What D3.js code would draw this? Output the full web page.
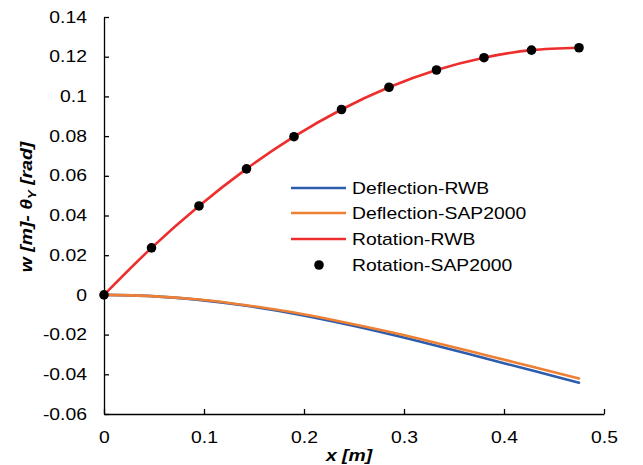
<!DOCTYPE html>
<html>
<head>
<meta charset="utf-8">
<script src="https://cdn.jsdelivr.net/npm/d3@7"></script>
<style>
  html, body { margin: 0; padding: 0; background: #fff; }
  svg { display: block; font-family: "Liberation Sans", Arial, sans-serif; }
</style>
</head>
<body>
<svg id="chart" width="643" height="465"></svg>
<script>
const xValues = [0, 0.0475, 0.095, 0.1425, 0.19, 0.2375, 0.285, 0.3325, 0.38, 0.4275, 0.475];
const deflectionRWB = [0, -0.0006, -0.0025, -0.0055, -0.0095, -0.0143, -0.0197, -0.0256, -0.0318, -0.0380, -0.0442];
const deflectionSAP = [0, -0.0006, -0.0023, -0.0052, -0.0089, -0.0135, -0.0186, -0.0242, -0.0301, -0.0361, -0.0421];
const rotationRWB = [0, 0.0237, 0.0448, 0.0635, 0.0797, 0.0934, 0.1046, 0.1133, 0.1195, 0.1233, 0.1245];
const rotationSAP = [0, 0.0237, 0.0448, 0.0635, 0.0797, 0.0934, 0.1046, 0.1133, 0.1195, 0.1233, 0.1245];
const xTicks = [0, 0.1, 0.2, 0.3, 0.4, 0.5];
const yTicks = [-0.06, -0.04, -0.02, 0, 0.02, 0.04, 0.06, 0.08, 0.1, 0.12, 0.14];
const seriesNames = ["Deflection-RWB", "Deflection-SAP2000", "Rotation-RWB", "Rotation-SAP2000"];
const seriesColors = ["#2d5cad", "#ee8035", "#ee2d2d", "#000000"];

const SX = 1.21; // horizontal text stretch seen in the reference
const svg = d3.select("#chart");
const x = d3.scaleLinear().domain([0, 0.5]).range([104, 604]);
const y = d3.scaleLinear().domain([-0.06, 0.14]).range([414, 17]);
const fmt = d => String(+d.toFixed(2));

// axes
const xAxis = d3.axisBottom(x).tickValues(xTicks).tickSizeInner(-5).tickSizeOuter(0).tickFormat(fmt);
const gx = svg.append("g").attr("transform", `translate(0,${y(-0.06)})`).call(xAxis);
gx.select(".domain").attr("stroke", "#000").attr("stroke-width", 1.3);
gx.selectAll(".tick line").attr("stroke", "#000").attr("stroke-width", 1.3);
gx.selectAll(".tick text").attr("font-size", 16).attr("fill", "#000")
  .attr("y", 0).attr("dy", 0).attr("transform", `translate(0,29) scale(${SX},1)`);

const yAxis = d3.axisLeft(y).tickValues(yTicks).tickSizeInner(-5).tickSizeOuter(0).tickFormat(fmt);
const gy = svg.append("g").attr("transform", `translate(${x(0)},0)`).call(yAxis);
gy.select(".domain").attr("stroke", "#000").attr("stroke-width", 1.3);
gy.selectAll(".tick line").attr("stroke", "#000").attr("stroke-width", 1.3);
gy.selectAll(".tick text").attr("font-size", 16).attr("fill", "#000")
  .attr("x", 0).attr("transform", `translate(-17,0) scale(${SX},1)`);

// axis titles
svg.append("text").attr("transform", `translate(349,461) scale(${SX},1)`).attr("text-anchor", "middle")
  .attr("font-size", 16).attr("font-weight", "bold").attr("font-style", "italic").text("x [m]");
const yt = svg.append("text").attr("transform", `translate(32,207) rotate(-90) scale(${SX},1)`)
  .attr("text-anchor", "middle").attr("font-size", 16).attr("font-weight", "bold").attr("font-style", "italic");
yt.append("tspan").text("w [m]- ");
yt.append("tspan").text("θ");
yt.append("tspan").attr("font-size", 11).attr("dy", 4).text("Y");
yt.append("tspan").attr("dy", -4).text(" [rad]");

// lines
const line = arr => d3.line().x((d, i) => x(xValues[i])).y(d => y(d)).curve(d3.curveMonotoneX)(arr);
const lineData = [deflectionRWB, deflectionSAP, rotationRWB];
[0, 1, 2].forEach(k => {
  svg.append("path").attr("d", line(lineData[k])).attr("fill", "none")
    .attr("stroke", seriesColors[k]).attr("stroke-width", 2.6).attr("stroke-linecap", "round");
});

svg.append("g").selectAll("circle").data(rotationSAP).join("circle")
  .attr("cx", (d, i) => x(xValues[i])).attr("cy", d => y(d)).attr("r", 4.8).attr("fill", "#000");

// legend
const legY = [188, 213, 239, 265];
const lg = svg.append("g");
seriesNames.forEach((name, i) => {
  if (i < 3) {
    lg.append("line").attr("x1", 291).attr("x2", 346).attr("y1", legY[i]).attr("y2", legY[i])
      .attr("stroke", seriesColors[i]).attr("stroke-width", 2.6);
  } else {
    lg.append("circle").attr("cx", 319).attr("cy", legY[i]).attr("r", 4.8).attr("fill", "#000");
  }
  lg.append("text").attr("transform", `translate(352,${legY[i]}) scale(${SX},1)`).attr("dy", "0.35em")
    .attr("font-size", 16).attr("fill", "#000").text(name);
});
</script>
</body>
</html>
